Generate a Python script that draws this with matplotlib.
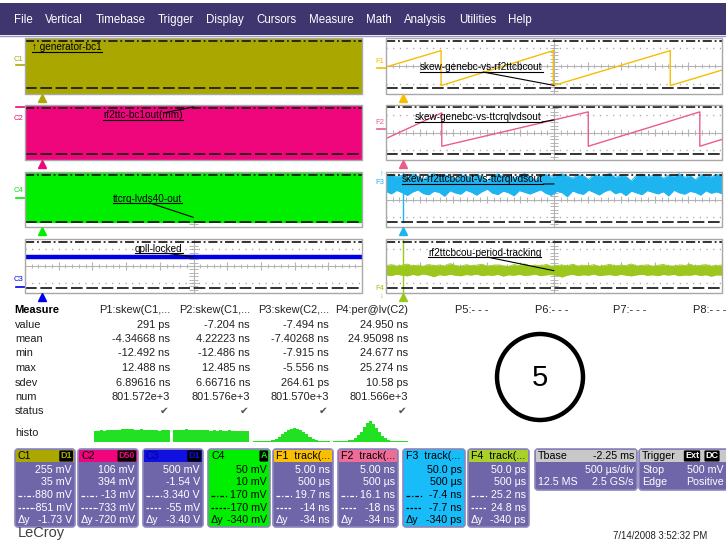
import numpy as np
import matplotlib
matplotlib.use('Agg')
import matplotlib.pyplot as plt
from matplotlib.patches import Rectangle, FancyBboxPatch, Circle
from matplotlib.transforms import blended_transform_factory as blend

plt.rcParams['font.family'] = ['Liberation Sans', 'DejaVu Sans']

W, H = 726, 540

### DATA ###
T_LIM = (-0.25, 4.75)        # ms, 500 us/div, 10 div
T_TRIG = 0.0
T_MID = 2.25

# channel clocks fill the screen: envelopes clipped at the screen edges (mV)
C1_t, C1_lo, C1_hi = [-0.25, 4.75], [-1100, -1100], [1100, 1100]
C2_t, C2_lo, C2_hi = [-0.25, 4.75], [-850, -850], [60, 60]
C4_t, C4_lo, C4_hi = [-0.25, 4.75], [-181, -181], [230, 230]
C3_t, C3_v = [-0.25, 4.75], [2.21, 2.21]          # V

# skew tracks (ns)
F1_t = [-0.25, 0.57, 0.57, 2.24, 2.24, 3.98, 3.98, 4.75]
F1_v = [0.8, 12.5, -12.5, 12.5, -12.5, 12.5, -12.5, -1.4]
F2_t = [-0.25, 0.58, 0.58, 2.76, 2.76, 4.42, 4.42, 4.75]
F2_v = [-6.9, 11.8, -12.5, 12.5, -12.5, 12.5, -12.5, -7.5]

F3_jump_t, F3_jump_v = [0.0, 0.0], [-7.70, -7.39]
F3_hi = [-7.405, -7.398, -7.412, -7.402, -7.420, -7.395, -7.408, -7.430, -7.404, -7.392,
         -7.415, -7.401, -7.409, -7.425, -7.399, -7.405, -7.418, -7.396, -7.410, -7.440,
         -7.403, -7.394, -7.412, -7.400, -7.422, -7.406, -7.391, -7.409, -7.435, -7.402,
         -7.397, -7.414, -7.401, -7.393, -7.408, -7.420, -7.399, -7.405, -7.428, -7.396,
         -7.411, -7.403, -7.390, -7.416, -7.402, -7.409, -7.438, -7.400, -7.395, -7.413,
         -7.404, -7.398, -7.421, -7.401, -7.407, -7.392, -7.415, -7.403, -7.431, -7.399,
         -7.406, -7.412, -7.397, -7.404]
F3_lo = [-7.505, -7.520, -7.498, -7.512, -7.530, -7.508, -7.495, -7.518, -7.526, -7.503,
         -7.511, -7.535, -7.500, -7.514, -7.522, -7.497, -7.509, -7.528, -7.506, -7.490,
         -7.516, -7.524, -7.502, -7.513, -7.532, -7.499, -7.510, -7.521, -7.507, -7.494,
         -7.517, -7.529, -7.504, -7.512, -7.538, -7.501, -7.515, -7.523, -7.496, -7.511,
         -7.527, -7.505, -7.493, -7.519, -7.508, -7.531, -7.502, -7.514, -7.525, -7.499,
         -7.510, -7.520, -7.506, -7.533, -7.497, -7.513, -7.522, -7.504, -7.511, -7.528,
         -7.500, -7.516, -7.507, -7.519]

F4_jump_t, F4_jump_v = [0.0, 0.0], [24.70, 25.30]
F4_hi = [24.995, 25.003, 24.990, 24.998, 25.008, 24.992, 24.999, 24.988, 25.004, 24.994,
         25.000, 24.991, 25.012, 24.996, 24.989, 25.002, 24.993, 24.999, 25.006, 24.990,
         24.997, 25.001, 24.992, 24.987, 25.003, 24.995, 25.010, 24.991, 24.998, 24.994,
         25.004, 24.989, 24.996, 25.000, 24.993, 25.007, 24.990, 24.998, 24.995, 25.002,
         24.988, 24.997, 25.005, 24.992, 24.999, 24.994, 25.009, 24.991, 24.996, 25.001,
         24.989, 24.998, 25.004, 24.993, 24.990, 25.000, 24.995, 25.006, 24.992, 24.997,
         25.003, 24.990, 24.996, 24.999]
F4_lo = [24.915, 24.908, 24.920, 24.912, 24.905, 24.918, 24.910, 24.922, 24.913, 24.898,
         24.916, 24.909, 24.919, 24.911, 24.906, 24.917, 24.912, 24.921, 24.907, 24.914,
         24.910, 24.919, 24.903, 24.915, 24.911, 24.918, 24.909, 24.913, 24.920, 24.906,
         24.914, 24.917, 24.910, 24.895, 24.912, 24.919, 24.908, 24.915, 24.911, 24.921,
         24.907, 24.913, 24.916, 24.909, 24.918, 24.912, 24.905, 24.914, 24.920, 24.910,
         24.915, 24.908, 24.917, 24.912, 24.919, 24.906, 24.913, 24.911, 24.918, 24.909,
         24.915, 24.902, 24.914, 24.912]

# measurement table
MEAS_ROWS = ['value', 'mean', 'min', 'max', 'sdev', 'num', 'status']
MEAS_HEAD = ['P1:skew(C1,...', 'P2:skew(C1,...', 'P3:skew(C2,...', 'P4:per@lv(C2)']
P1 = ['291 ps', '-4.34668 ns', '-12.492 ns', '12.488 ns', '6.89616 ns', '801.572e+3']
P2 = ['-7.204 ns', '4.22223 ns', '-12.486 ns', '12.485 ns', '6.66716 ns', '801.576e+3']
P3 = ['-7.494 ns', '-7.40268 ns', '-7.915 ns', '-5.556 ns', '264.61 ps', '801.570e+3']
P4 = ['24.950 ns', '24.95098 ns', '24.677 ns', '25.274 ns', '10.58 ps', '801.566e+3']
P_EMPTY = ['P5:- - -', 'P6:- - -', 'P7:- - -', 'P8:- - -']

HISTO_P1 = [0.50, 0.52, 0.53, 0.52, 0.54, 0.53, 0.55, 0.54, 0.56, 0.58, 0.60, 0.57, 0.59,
            0.56, 0.55, 0.57, 0.54, 0.55, 0.53, 0.54, 0.55, 0.52, 0.54, 0.53, 0.55]
HISTO_P2 = [0.55, 0.56, 0.54, 0.55, 0.57, 0.55, 0.56, 0.54, 0.55, 0.53, 0.54, 0.55, 0.52,
            0.53, 0.52, 0.54, 0.51, 0.52, 0.53, 0.50, 0.52, 0.51, 0.50, 0.52, 0.50]
HISTO_P3 = [0.04, 0.04, 0.04, 0.04, 0.05, 0.06, 0.09, 0.15, 0.25, 0.36, 0.46, 0.55, 0.60,
            0.62, 0.60, 0.55, 0.46, 0.36, 0.25, 0.15, 0.09, 0.06, 0.05, 0.04, 0.04]
HISTO_P4 = [0.04, 0.04, 0.04, 0.04, 0.05, 0.07, 0.11, 0.19, 0.31, 0.46, 0.66, 0.86, 0.95,
            0.84, 0.64, 0.44, 0.29, 0.17, 0.10, 0.06, 0.05, 0.04, 0.04, 0.04, 0.04]

# channel descriptor boxes
BOX_HEAD = ['C1', 'C2', 'C3', 'C4', 'F1  track(...', 'F2  track(...', 'F3  track(...', 'F4  track(...']
BOX_BADGE = ['D1', 'D50', 'D1', 'A', None, None, None, None]
BOX_ROWS = [['255 mV', '35 mV', '880 mV', '-851 mV', '-1.73 V'],
            ['106 mV', '394 mV', '-13 mV', '-733 mV', '-720 mV'],
            ['500 mV', '-1.54 V', '3.340 V', '-55 mV', '-3.40 V'],
            ['50 mV', '10 mV', '170 mV', '-170 mV', '-340 mV'],
            ['5.00 ns', '500 µs', '19.7 ns', '-14 ns', '-34 ns'],
            ['5.00 ns', '500 µs', '16.1 ns', '-18 ns', '-34 ns'],
            ['50.0 ps', '500 µs', '-7.4 ns', '-7.7 ns', '-340 ps'],
            ['50.0 ps', '500 µs', '25.2 ns', '24.8 ns', '-340 ps']]
MENU = ['File', 'Vertical', 'Timebase', 'Trigger', 'Display', 'Cursors', 'Measure',
        'Math', 'Analysis', 'Utilities', 'Help']

### STYLE ###
OLIVE, MAGENTA, GREEN, BLUE = '#aaa800', '#f0067c', '#00ee00', '#0000e8'
F1C, F2C, F3C, F4C = '#f5be00', '#ea5c8c', '#1eb4f0', '#9cc81e'
GRID = '#b4b4b4'
BODY = '#6e66a9'
HISTO_C = '#22e022'

fig = plt.figure(figsize=(W / 100., H / 100.), dpi=100)
fig.patch.set_facecolor('white')


def px_axes(x0, y0, x1, y1):
    return fig.add_axes([x0 / W, 1 - y1 / H, (x1 - x0) / W, (y1 - y0) / H])


bg = px_axes(0, 0, W, H)
bg.set_xlim(0, W)
bg.set_ylim(H, 0)
bg.axis('off')
renderer = fig.canvas.get_renderer()

# menu bar, items laid out from their rendered widths
bg.add_patch(Rectangle((0, 3), W, 32, fc='#3f356f', ec='none'))
bg.plot([0, W], [35.5, 35.5], color='#9a94c0', lw=1)
x = 14
for m in MENU:
    t = bg.text(x, 23, m, color='white', fontsize=8.3, va='baseline')
    bb = t.get_window_extent(renderer)
    x = bg.transData.inverted().transform((bb.x1, bb.y0))[0] + 12.3


def panel(rect, ylim, cursors):
    ax = px_axes(*rect)
    ax.set_facecolor('none')
    ax.set_xlim(*T_LIM)
    ax.set_ylim(*ylim)
    ax.set_xticks([])
    ax.set_yticks([])
    for s in ax.spines.values():
        s.set_visible(False)
    tr = ax.transAxes
    ax.add_patch(Rectangle((0, 0), 1, 1, transform=tr, fill=False, ec='#a8a8a8',
                           lw=1.0, zorder=5, clip_on=False))
    ax.plot([0, 1], [0.5, 0.5], color=GRID, lw=0.8, transform=tr, zorder=0.5)
    ax.plot([0.5, 0.5], [0, 1], color=GRID, lw=0.8, transform=tr, zorder=0.5)
    xs = np.arange(51) / 50.
    major = (np.arange(51) % 5 == 0)
    ax.vlines(xs[~major], 0.46, 0.54, color=GRID, lw=0.7, transform=tr, zorder=0.5)
    ax.vlines(xs[major], 0.43, 0.57, color=GRID, lw=0.8, transform=tr, zorder=0.5)
    ax.hlines(np.arange(1, 16) / 16., 0.488, 0.512, color=GRID, lw=0.7, transform=tr, zorder=0.5)
    for f in (0.18, 0.82):
        ax.plot([0, 1], [f, f], color='#a0a0a0', lw=1, ls=(0, (0.8, 4)), transform=tr, zorder=0.5)
    c_hi, c_lo = cursors
    ax.axhline(c_hi, color='#111111', lw=1.2, ls=(0, (5.5, 1.7, 1.1, 1.7)), zorder=4)
    ax.axhline(c_lo, color='#111111', lw=1.2, ls=(0, (7, 2.2)), zorder=4)
    return ax


def trig_marker(ax, color):
    ax.plot([T_TRIG], [-0.075], marker='^', ms=5.5, color=color, lw=0,
            transform=blend(ax.transData, ax.transAxes), clip_on=False, zorder=6)


def level_tag(ax, name, color, off=2.5):
    tr = blend(ax.transAxes, ax.transData)
    ax.plot([-0.026, 0], [0, 0], color=color, lw=1.2, transform=tr, clip_on=False)
    ax.annotate(name, xy=(-0.019, 0), xycoords=tr, xytext=(0, off), textcoords='offset points',
                ha='center', va='bottom' if off > 0 else 'top', fontsize=5.5, color=color)


def ylim_of(center, vdiv):
    return (center - 4 * vdiv, center + 4 * vdiv)


LX0, LX1, RX0, RX1 = 25, 362, 386, 722
ROWS = [(38, 94), (105, 160), (172, 227), (239, 293)]

# left: channels
aC1 = panel((LX0, ROWS[0][0], LX1, ROWS[0][1]), ylim_of(-35, 255), (880, -851))
aC1.fill_between(C1_t, C1_lo, C1_hi, color=OLIVE, lw=0, zorder=1)
aC2 = panel((LX0, ROWS[1][0], LX1, ROWS[1][1]), ylim_of(-394, 106), (-13, -733))
aC2.fill_between(C2_t, C2_lo, C2_hi, color=MAGENTA, lw=0, zorder=1)
aC4 = panel((LX0, ROWS[2][0], LX1, ROWS[2][1]), ylim_of(-10, 50), (170, -170))
aC4.fill_between(C4_t, C4_lo, C4_hi, color=GREEN, lw=0, zorder=1)
aC3 = panel((LX0, ROWS[3][0], LX1, ROWS[3][1]), ylim_of(1.54, 0.5), (3.34, -0.055))
aC3.plot(C3_t, C3_v, color=BLUE, lw=3.2, zorder=2)

for ax, nm, col, off in [(aC1, 'C1', OLIVE, 1.5), (aC2, 'C2', MAGENTA, -6),
                         (aC4, 'C4', GREEN, 3), (aC3, 'C3', BLUE, 2.5)]:
    trig_marker(ax, col)
    level_tag(ax, nm, col, off)

# right: math tracks
aF1 = panel((RX0, ROWS[0][0], RX1, ROWS[0][1]), ylim_of(1.5, 5), (19.7, -14))
aF1.plot(F1_t, F1_v, color=F1C, lw=1.0, zorder=2)
aF2 = panel((RX0, ROWS[1][0], RX1, ROWS[1][1]), ylim_of(-2.5, 5), (16.1, -18))
aF2.plot(F2_t, F2_v, color=F2C, lw=1.0, zorder=2)
aF3 = panel((RX0, ROWS[2][0], RX1, ROWS[2][1]), (-7.731, -7.381), (-7.4, -7.7))
n3 = min(len(F3_hi), len(F3_lo))
t3 = np.linspace(T_LIM[0], T_LIM[1], n3)
aF3.fill_between(t3, F3_lo[:n3], F3_hi[:n3], color=F3C, lw=0, zorder=2)
aF3.plot(t3, F3_hi[:n3], color=F3C, lw=0.7, zorder=2)
aF3.plot(t3, F3_lo[:n3], color=F3C, lw=0.7, zorder=2)
aF3.plot(F3_jump_t, F3_jump_v, color=F3C, lw=1.0, zorder=2)
aF4 = panel((RX0, ROWS[3][0], RX1, ROWS[3][1]), (24.756, 25.226), (25.2, 24.8))
n4 = min(len(F4_hi), len(F4_lo))
t4 = np.linspace(T_LIM[0], T_LIM[1], n4)
aF4.fill_between(t4, F4_lo[:n4], F4_hi[:n4], color=F4C, lw=0, zorder=2)
aF4.plot(t4, F4_hi[:n4], color=F4C, lw=0.6, zorder=2)
aF4.plot(t4, F4_lo[:n4], color=F4C, lw=0.6, zorder=2)
aF4.plot(F4_jump_t, F4_jump_v, color=F4C, lw=1.0, zorder=2)

for ax, nm, col in [(aF1, 'F1', F1C), (aF2, 'F2', F2C)]:
    level_tag(ax, nm, col, 2)
for ax, col in [(aF1, F1C), (aF2, F2C), (aF3, F3C), (aF4, F4C)]:
    trig_marker(ax, col)

# histograms
for rect, h in [((94, 420, 170, 442), HISTO_P1), ((173, 420, 249, 442), HISTO_P2),
                ((253, 420, 330, 442), HISTO_P3), ((333, 420, 408, 442), HISTO_P4)]:
    hx = px_axes(*rect)
    hx.bar(np.arange(len(h)), h, width=1.0, color=HISTO_C, lw=0)
    hx.set_xlim(-0.5, len(h) - 0.5)
    hx.set_ylim(0, 1)
    hx.axis('off')

# overlay for labels and annotations
ov = px_axes(0, 0, W, H)
ov.set_facecolor('none')
ov.set_xlim(0, W)
ov.set_ylim(H, 0)
ov.axis('off')

# off-screen level markers of F3 / F4
ov.text(380, 183, 'F3', fontsize=5.5, color=F3C, ha='center', va='center')
ov.text(382, 175, '↑', fontsize=5.5, color=F3C, ha='center', va='center')
ov.text(380, 288, 'F4', fontsize=5.5, color=F4C, ha='center', va='center')
ov.text(382, 296, '↓', fontsize=5.5, color=F4C, ha='center', va='center')


def tag(x, yline, text, start=None, target=None):
    t = ov.text(x, yline - 1.5, text, fontsize=7.2, va='baseline', ha='left', zorder=8)
    bb = t.get_window_extent(renderer)
    x_end = ov.transData.inverted().transform((bb.x1, bb.y0))[0]
    ov.plot([x, x_end], [yline, yline], color='black', lw=0.8, zorder=8)
    if target is not None:
        if start is None:
            start = (x_end, yline)
        ax, xy = target
        ov.annotate('', xy=xy, xycoords=ax.transData, xytext=start, textcoords='data',
                    arrowprops=dict(arrowstyle='-', lw=0.8, color='black',
                                    shrinkA=0, shrinkB=0), zorder=8)


tag(32, 52, '↑ generator-bc1')
tag(103, 120, 'rf2ttc-bc1out(mm)', (163, 113), (aC2, (T_MID, 0)))
tag(113, 203, 'ttcrq-lvds40-out', (150, 203), (aC4, (T_MID, -140)))
tag(135, 253, 'qpll-locked', (165, 253), (aC3, (T_MID, C3_v[0])))
tag(420, 72, 'skew-genebc-vs-rf2ttcbcout', (483, 72), (aF1, (T_MID, np.interp(T_MID, F1_t, F1_v))))
tag(415, 122, 'skew-genebc-vs-ttcrqlvdsout', None, (aF2, (T_MID, np.interp(T_MID, F2_t, F2_v))))
tag(402, 184, 'skew-rf2ttcbcout-vs-ttcrqlvdsout', None, (aF3, (T_MID, -7.457)))
tag(428, 257, 'rf2ttcbcou-period-tracking', (487, 257), (aF4, (T_MID, 24.95)))

# measurement table
FS = 7.9
ov.text(14, 310, 'Measure', fontsize=FS, fontweight='bold', va='center')
ROW_Y = [325, 339, 353, 368, 383, 397, 411]
for lab, y in zip(MEAS_ROWS, ROW_Y):
    ov.text(15, y, lab, fontsize=FS, va='center', color='#202020')
ov.text(15, 433, 'histo', fontsize=FS, va='center', color='#202020')
COL_R = [170, 250, 329, 408]
for xr, head, vals in zip(COL_R, MEAS_HEAD, [P1, P2, P3, P4]):
    ov.text(xr, 310, head, fontsize=FS, ha='right', va='center', color='#202020')
    for v, y in zip(vals, ROW_Y):
        ov.text(xr, y, v, fontsize=FS, ha='right', va='center', color='#202020')
    ov.text(xr - 1, ROW_Y[-1], '✔', fontsize=7.5, ha='right', va='center', color='#505050')
for x, p in zip([455, 535, 613, 693], P_EMPTY):
    ov.text(x, 310, p, fontsize=FS, va='center', color='#202020')

ov.add_patch(Circle((540, 377), 43, fill=False, ec='black', lw=3.2))
ov.text(540, 378, '5', fontsize=21, ha='center', va='center')

# channel boxes
BOX_X = [15, 78, 143, 208, 273, 338, 403, 468]
BOX_W = [60, 60, 60, 62, 60, 60, 62, 61]
HEAD_C = [OLIVE, MAGENTA, '#1010e0', GREEN, '#f8c000', '#f06c98', '#18bcf8', '#a8d028']
BODY_C = [BODY, BODY, BODY, GREEN, BODY, BODY, '#18bcf8', BODY]
TXT_C = ['white', 'white', 'white', 'black', 'white', 'white', 'black', 'white']
HEAD_TXT = ['black', 'black', '#000090', 'black', 'black', 'black', 'black', 'black']
Y0, Y1 = 449, 527
RY = [470, 482, 495.5, 508, 520]
for i in range(8):
    x, w = BOX_X[i], BOX_W[i]
    bg.add_patch(FancyBboxPatch((x, Y0), w, Y1 - Y0, boxstyle='round,pad=0,rounding_size=3',
                                fc=BODY_C[i], ec='#8c86bc', lw=1.2))
    bg.add_patch(Rectangle((x + 1, Y0 + 1), w - 2, 12, fc=HEAD_C[i], ec='none'))
    ov.text(x + 3, Y0 + 7, BOX_HEAD[i], fontsize=7.7, va='center', color=HEAD_TXT[i])
    if BOX_BADGE[i]:
        ov.text(x + w - 3, Y0 + 7, BOX_BADGE[i], fontsize=6.5, va='center', ha='right',
                fontweight='bold', color=HEAD_C[i],
                bbox=dict(boxstyle='round,pad=0.12', fc='black', ec='none'))
    for r, (v, y) in enumerate(zip(BOX_ROWS[i], RY)):
        ov.text(x + w - 3, y, v, fontsize=7.7, ha='right', va='center', color=TXT_C[i])
    ov.plot([x + 3, x + 19], [RY[2], RY[2]], color=TXT_C[i], lw=0.9, ls=(0, (3, 1.5, 1, 1.5)))
    ov.plot([x + 3, x + 19], [RY[3], RY[3]], color=TXT_C[i], lw=0.9, ls=(0, (2, 1.2)))
    ov.text(x + 3, RY[4], 'Δy', fontsize=7.7, va='center', color=TXT_C[i])

# timebase / trigger boxes
for x, w, head in [(535, 102, 'Tbase'), (639, 90, 'Trigger')]:
    bg.add_patch(FancyBboxPatch((x, Y0), w, 41, boxstyle='round,pad=0,rounding_size=3',
                                fc=BODY, ec='#8c86bc', lw=1.2))
    bg.add_patch(Rectangle((x + 1, Y0 + 1), w - 2, 12, fc='#c8c8c8', ec='none'))
    ov.text(x + 3, Y0 + 7, head, fontsize=7.7, va='center')
ov.text(634, 456, '-2.25 ms', fontsize=7.7, ha='right', va='center')
ov.text(634, 470, '500 µs/div', fontsize=7.7, ha='right', va='center', color='white')
ov.text(538, 482, '12.5 MS', fontsize=7.7, va='center', color='white')
ov.text(634, 482, '2.5 GS/s', fontsize=7.7, ha='right', va='center', color='white')
ov.text(692, 456, 'Ext', fontsize=6.5, ha='center', va='center', fontweight='bold', color='white',
        bbox=dict(boxstyle='round,pad=0.12', fc='black', ec='none'))
ov.text(712, 456, 'DC', fontsize=6.5, ha='center', va='center', fontweight='bold', color='white',
        bbox=dict(boxstyle='round,pad=0.12', fc='black', ec='none'))
ov.text(642, 470, 'Stop', fontsize=7.7, va='center', color='white')
ov.text(724, 470, '500 mV', fontsize=7.7, ha='right', va='center', color='white')
ov.text(642, 482, 'Edge', fontsize=7.7, va='center', color='white')
ov.text(724, 482, 'Positive', fontsize=7.7, ha='right', va='center', color='white')

ov.text(18, 536.5, 'LeCroy', fontsize=10.5, va='baseline', color='#404040')
ov.text(660, 536, '7/14/2008 3:52:32 PM', fontsize=6.9, ha='center', va='center', color='#202020')

fig.savefig('out.png', dpi=100, facecolor='white')
